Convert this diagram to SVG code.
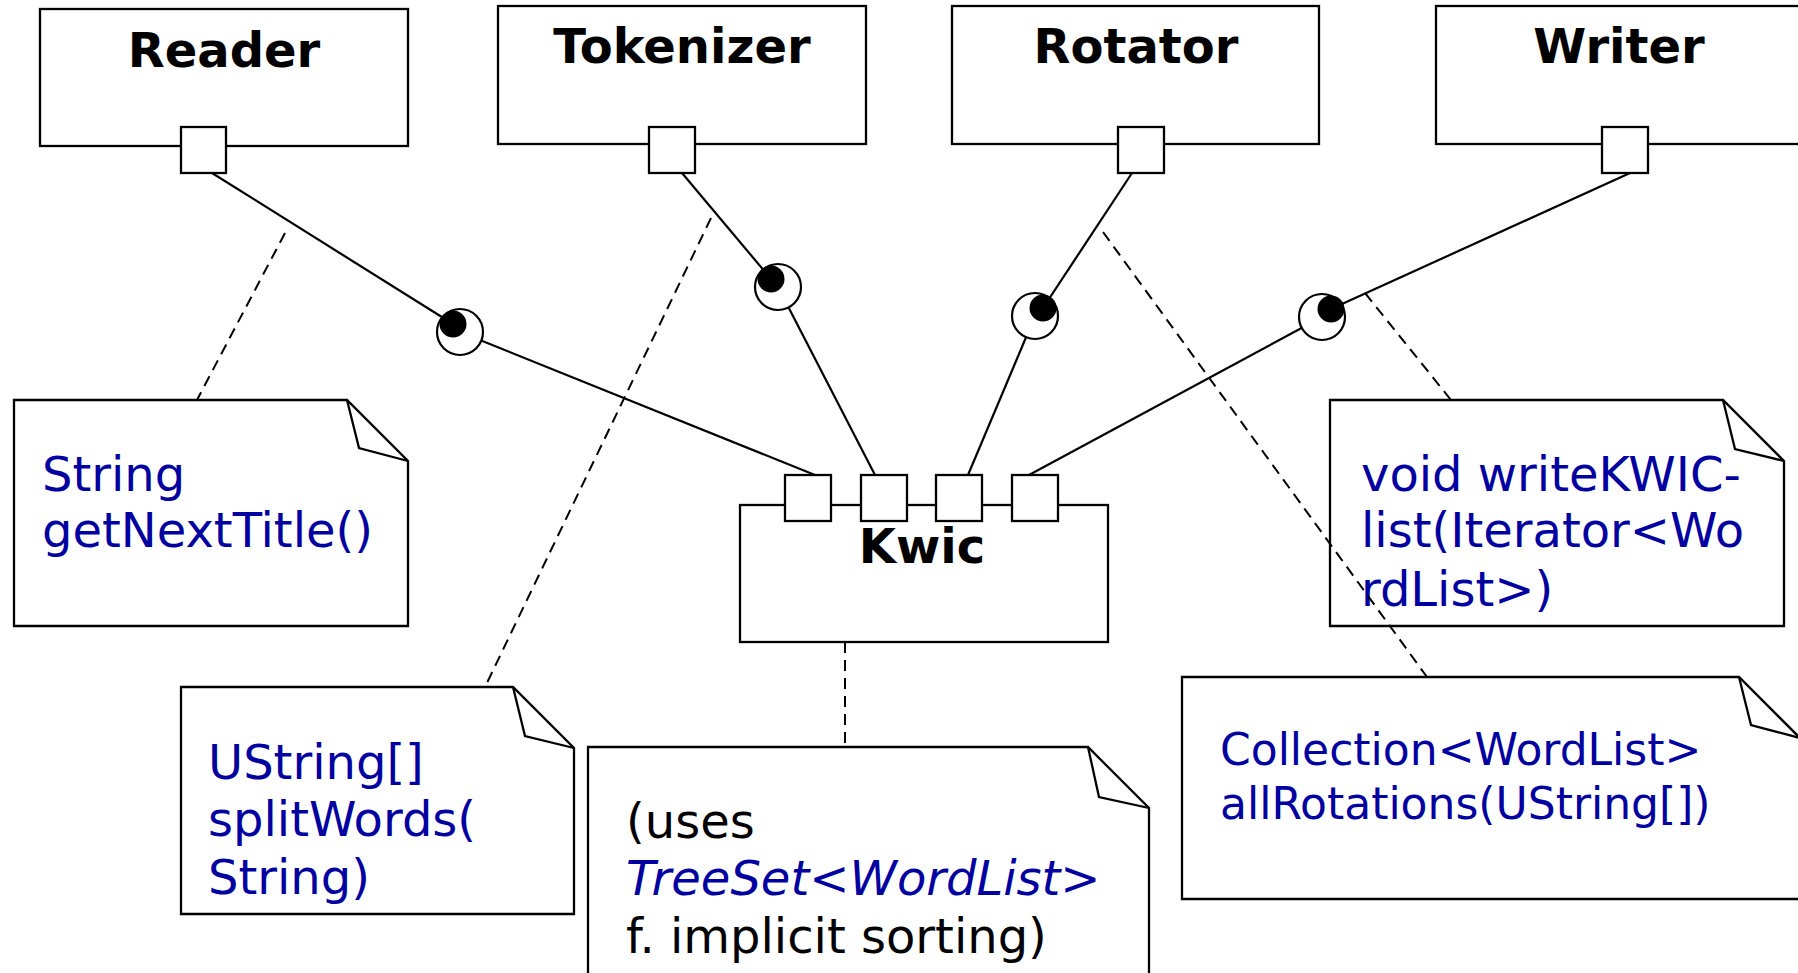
<svg xmlns="http://www.w3.org/2000/svg" width="1798" height="973" viewBox="0 0 1798 973">
<style>
.box{fill:#fff;stroke:#000;stroke-width:2.3}
.port{fill:#fff;stroke:#000;stroke-width:2.3}
.note{fill:#fff;stroke:#000;stroke-width:2.3;stroke-linejoin:miter}
.fold{fill:none;stroke:#000;stroke-width:2.3}
.title{font-family:"DejaVu Sans","Verdana",sans-serif;font-weight:bold;font-size:48px;fill:#000;text-anchor:middle}
.nt{font-family:"DejaVu Sans","Verdana",sans-serif;font-size:48px;fill:#0000a0}
.sm{font-size:44px}
.blk{fill:#000}
.it{font-style:italic}
.solid{stroke:#000;stroke-width:2.2;fill:none}
.dash{stroke:#000;stroke-width:2;fill:none;stroke-dasharray:11 7}
.sock{fill:#fff;stroke:#000;stroke-width:2.2}
.ball{fill:#000}
</style>
<rect width="1798" height="973" fill="#fff"/>
<g id="Reader"><rect class="box" x="40" y="9" width="368" height="137"/><text class="title" x="224" y="67">Reader</text></g>
<g id="Tokenizer"><rect class="box" x="498" y="6" width="368" height="138"/><text class="title" x="682" y="63">Tokenizer</text></g>
<g id="Rotator"><rect class="box" x="952" y="6" width="367" height="138"/><text class="title" x="1136" y="63">Rotator</text></g>
<g id="Writer"><rect class="box" x="1436" y="6" width="367" height="138"/><text class="title" x="1619" y="63">Writer</text></g>
<g id="Kwic"><rect class="box" x="740" y="505" width="368" height="137"/><text class="title" x="922" y="563">Kwic</text></g>
<g id="note-reader"><path class="note" d="M14,400 H347 L408,461 V626 H14 Z"/><path class="fold" d="M347,400 L359,448 L408,461"/><text class="nt" x="42" y="491">String</text><text class="nt" x="42" y="547">getNextTitle()</text></g>
<g id="note-tokenizer"><path class="note" d="M181,687 H513 L574,748 V914 H181 Z"/><path class="fold" d="M513,687 L525,736 L574,748"/><text class="nt" x="208" y="779">UString[]</text><text class="nt" x="208" y="836">splitWords(</text><text class="nt" x="208" y="894">String)</text></g>
<g id="note-kwic"><path class="note" d="M588,747 H1088 L1149,808 V985 H588 Z"/><path class="fold" d="M1088,747 L1099,797 L1149,808"/><text class="nt blk" x="626" y="838">(uses</text><text class="nt it" x="626" y="895">TreeSet&lt;WordList&gt;</text><text class="nt blk" x="626" y="953">f. implicit sorting)</text></g>
<g id="note-writer"><path class="note" d="M1330,400 H1723 L1784,461 V626 H1330 Z"/><path class="fold" d="M1723,400 L1735,449 L1784,461"/><text class="nt" x="1361" y="491">void writeKWIC-</text><text class="nt" x="1361" y="547">list(Iterator&lt;Wo</text><text class="nt" x="1361" y="606">rdList&gt;)</text></g>
<g id="note-rotator"><path class="note" d="M1182,677 H1739 L1800,738 V899 H1182 Z"/><path class="fold" d="M1739,677 L1751,725 L1800,738"/><text class="nt sm" x="1220" y="765">Collection&lt;WordList&gt;</text><text class="nt sm" x="1220" y="819">allRotations(UString[])</text></g>
<g id="connectors">
<line class="solid" x1="212" y1="173" x2="453" y2="324"/>
<line class="solid" x1="460" y1="332" x2="815" y2="475"/>
<line class="solid" x1="682" y1="173" x2="771" y2="279"/>
<line class="solid" x1="778" y1="287" x2="875" y2="475"/>
<line class="solid" x1="1132" y1="173" x2="1043" y2="308"/>
<line class="solid" x1="1035" y1="316" x2="968" y2="475"/>
<line class="solid" x1="1630" y1="173" x2="1331" y2="309"/>
<line class="solid" x1="1322" y1="317" x2="1029" y2="475"/>
<line class="dash" x1="285" y1="233" x2="197" y2="400"/>
<line class="dash" x1="711" y1="218" x2="485" y2="687"/>
<line class="dash" x1="845" y1="642" x2="845" y2="747"/>
<line class="dash" x1="1103" y1="232" x2="1427" y2="677"/>
<line class="dash" x1="1365" y1="293" x2="1451" y2="400"/>
<circle class="sock" cx="460" cy="332" r="23"/><circle class="ball" cx="453" cy="324" r="13.5"/>
<circle class="sock" cx="778" cy="287" r="23"/><circle class="ball" cx="771" cy="279" r="13.5"/>
<circle class="sock" cx="1035" cy="316" r="23"/><circle class="ball" cx="1043" cy="308" r="13.5"/>
<circle class="sock" cx="1322" cy="317" r="23"/><circle class="ball" cx="1331" cy="309" r="13.5"/>
</g>
<g id="ports">
<rect class="port" x="181" y="127" width="45" height="46"/>
<rect class="port" x="649" y="127" width="46" height="46"/>
<rect class="port" x="1118" y="127" width="46" height="46"/>
<rect class="port" x="1602" y="127" width="46" height="46"/>
<rect class="port" x="785" y="475" width="46" height="46"/>
<rect class="port" x="861" y="475" width="46" height="46"/>
<rect class="port" x="936" y="475" width="46" height="46"/>
<rect class="port" x="1012" y="475" width="46" height="46"/>
</g>
</svg>
